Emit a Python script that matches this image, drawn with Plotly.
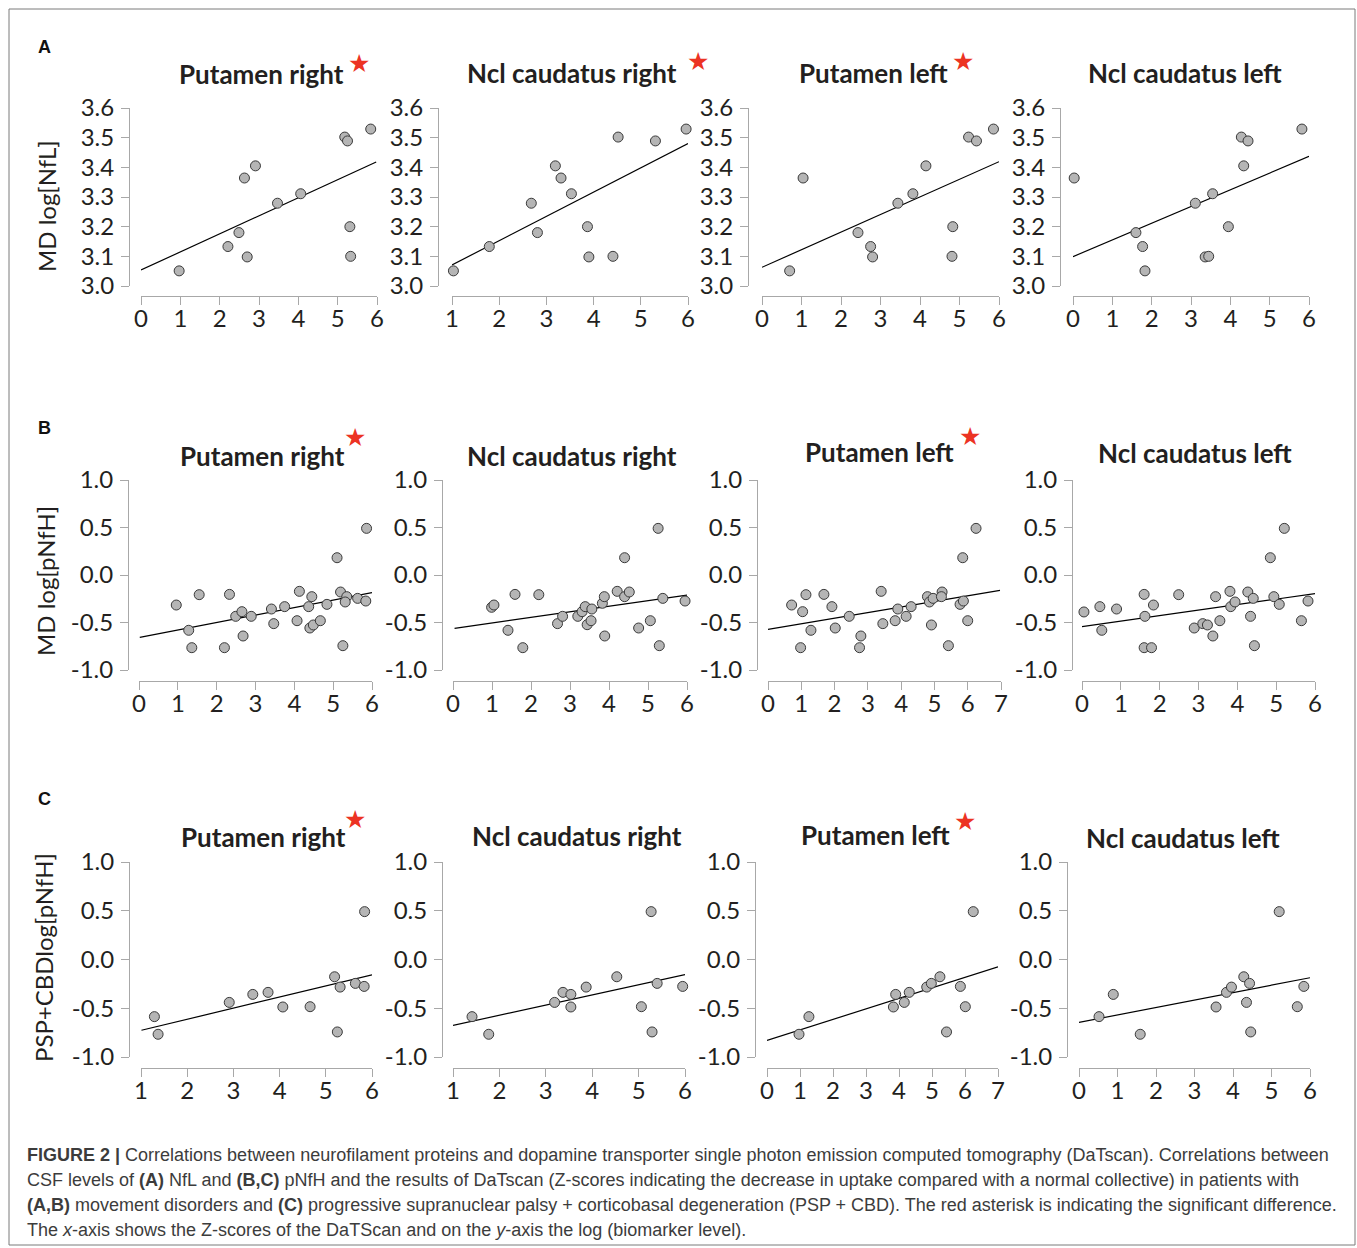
import plotly.graph_objects as go

W, H = 1357, 1248

# ---------------- data ----------------
titles = ["Putamen right", "Ncl caudatus right", "Putamen left", "Ncl caudatus left"]
row_labels = ["A", "B", "C"]
y_titles = ["MD log[NfL]", "MD log[pNfH]", "PSP+CBDlog[pNfH]"]
significant = [[True, True, True, False],
               [True, False, True, False],
               [True, False, True, False]]

nfl_ticks = [3.0, 3.1, 3.2, 3.3, 3.4, 3.5, 3.6]
nfl_ticktext = ["3.0", "3.1", "3.2", "3.3", "3.4", "3.5", "3.6"]
pnfh_ticks = [-1.0, -0.5, 0.0, 0.5, 1.0]
pnfh_ticktext = ["-1.0", "-0.5", "0.0", "0.5", "1.0"]

x_ranges = [[0, 6], [1, 6], [0, 6], [0, 6],
            [0, 6], [0, 6], [0, 7], [0, 6],
            [1, 6], [1, 6], [0, 7], [0, 6]]

# Row A: NfL, movement disorders
a1_x = [0.97, 2.21, 2.49, 2.70, 2.63, 2.91, 3.47, 4.06, 5.18, 5.25, 5.84, 5.31, 5.33]
a1_y = [3.051, 3.133, 3.180, 3.098, 3.364, 3.405, 3.279, 3.311, 3.502, 3.489, 3.529, 3.200, 3.100]
a1_fit_x = [0.0, 5.98]
a1_fit_y = [3.054, 3.418]

a2_x = [1.03, 1.79, 2.68, 2.81, 3.19, 3.31, 3.53, 3.87, 3.90, 4.41, 4.52, 5.31, 5.96]
a2_y = [3.051, 3.133, 3.279, 3.180, 3.405, 3.364, 3.311, 3.200, 3.098, 3.100, 3.502, 3.489, 3.529]
a2_fit_x = [1.0, 6.0]
a2_fit_y = [3.071, 3.480]

a3_x = [0.70, 1.04, 2.43, 2.75, 2.80, 3.44, 3.82, 4.15, 4.83, 4.81, 5.23, 5.43, 5.86]
a3_y = [3.051, 3.364, 3.180, 3.133, 3.098, 3.279, 3.311, 3.405, 3.200, 3.100, 3.502, 3.489, 3.529]
a3_fit_x = [0.0, 6.0]
a3_fit_y = [3.063, 3.419]

a4_x = [0.03, 1.60, 1.77, 1.83, 3.11, 3.36, 3.45, 3.55, 3.95, 4.28, 4.34, 4.45, 5.82]
a4_y = [3.364, 3.180, 3.133, 3.051, 3.279, 3.098, 3.100, 3.311, 3.200, 3.502, 3.405, 3.489, 3.529]
a4_fit_x = [0.0, 6.0]
a4_fit_y = [3.099, 3.437]

# Row B: pNfH, movement disorders
b1_x = [0.96, 1.28, 1.36, 1.55, 2.20, 2.33, 2.49, 2.65, 2.68, 2.89, 3.41, 3.47, 3.75, 4.07, 4.13,
        4.37, 4.45, 4.40, 4.49, 4.67, 4.84, 5.10, 5.19, 5.25, 5.35, 5.31, 5.63, 5.84, 5.86]
b1_y = [-0.316, -0.582, -0.765, -0.207, -0.765, -0.204, -0.435, -0.386, -0.642, -0.435, -0.358,
        -0.512, -0.333, -0.481, -0.172, -0.333, -0.228, -0.558, -0.526, -0.481, -0.309, 0.182,
        -0.179, -0.744, -0.228, -0.284, -0.246, -0.274, 0.491]
b1_fit_x = [0.02, 6.0]
b1_fit_y = [-0.656, -0.186]

b2_x = [0.99, 1.05, 1.41, 1.59, 1.79, 2.20, 2.68, 2.81, 3.20, 3.31, 3.39, 3.44, 3.54, 3.56, 3.83,
        3.88, 3.89, 4.21, 4.40, 4.40, 4.52, 4.76, 5.06, 5.26, 5.29, 5.38, 5.95]
b2_y = [-0.340, -0.316, -0.582, -0.204, -0.765, -0.207, -0.512, -0.435, -0.435, -0.386, -0.333,
        -0.523, -0.481, -0.358, -0.298, -0.228, -0.642, -0.172, 0.182, -0.228, -0.179, -0.558,
        -0.481, 0.491, -0.744, -0.246, -0.274]
b2_fit_x = [0.04, 6.0]
b2_fit_y = [-0.561, -0.211]

b3_x = [0.71, 0.98, 1.04, 1.14, 1.29, 1.68, 1.92, 2.02, 2.44, 2.75, 2.79, 3.40, 3.45, 3.82, 3.90,
        4.15, 4.30, 4.79, 4.85, 4.96, 4.91, 5.23, 5.21, 5.42, 5.77, 5.85, 5.87, 6.00, 6.25]
b3_y = [-0.316, -0.765, -0.386, -0.207, -0.582, -0.204, -0.333, -0.558, -0.435, -0.765, -0.642,
        -0.172, -0.512, -0.481, -0.358, -0.435, -0.333, -0.228, -0.284, -0.246, -0.526, -0.179,
        -0.228, -0.744, -0.309, 0.182, -0.274, -0.481, 0.491]
b3_fit_x = [0.0, 6.97]
b3_fit_y = [-0.572, -0.161]

b4_x = [0.05, 0.46, 0.51, 0.89, 1.60, 1.62, 1.60, 1.79, 1.84, 2.49, 2.89, 3.11, 3.23, 3.37, 3.44,
        3.55, 3.81, 3.83, 3.94, 4.27, 4.34, 4.41, 4.44, 4.85, 4.94, 5.08, 5.21, 5.65, 5.82]
b4_y = [-0.389, -0.333, -0.582, -0.358, -0.204, -0.435, -0.765, -0.765, -0.316, -0.207, -0.558,
        -0.512, -0.526, -0.642, -0.228, -0.481, -0.172, -0.333, -0.284, -0.179, -0.435, -0.246,
        -0.744, 0.182, -0.228, -0.309, 0.491, -0.481, -0.274]
b4_fit_x = [0.0, 6.0]
b4_fit_y = [-0.544, -0.196]

# Row C: pNfH, PSP + CBD
c1_x = [1.29, 1.37, 2.91, 3.42, 3.75, 4.07, 4.66, 5.19, 5.31, 5.25, 5.64, 5.83, 5.84]
c1_y = [-0.586, -0.767, -0.440, -0.358, -0.337, -0.487, -0.484, -0.177, -0.283, -0.743, -0.245, -0.276, 0.491]
c1_fit_x = [1.01, 6.0]
c1_fit_y = [-0.726, -0.157]

c2_x = [1.41, 1.77, 3.19, 3.37, 3.54, 3.54, 3.87, 4.53, 5.06, 5.27, 5.29, 5.40, 5.95]
c2_y = [-0.586, -0.767, -0.440, -0.337, -0.358, -0.487, -0.283, -0.177, -0.484, 0.491, -0.743, -0.245, -0.276]
c2_fit_x = [1.0, 6.0]
c2_fit_y = [-0.676, -0.155]

c3_x = [0.97, 1.27, 3.83, 3.90, 4.16, 4.31, 4.84, 4.98, 5.24, 5.44, 5.86, 6.01, 6.25]
c3_y = [-0.767, -0.586, -0.487, -0.358, -0.440, -0.337, -0.283, -0.245, -0.177, -0.743, -0.276, -0.484, 0.491]
c3_fit_x = [0.0, 7.0]
c3_fit_y = [-0.830, -0.075]

c4_x = [0.52, 0.89, 1.59, 3.56, 3.83, 3.96, 4.28, 4.35, 4.43, 4.46, 5.20, 5.67, 5.84]
c4_y = [-0.586, -0.358, -0.767, -0.487, -0.337, -0.283, -0.177, -0.440, -0.245, -0.743, 0.491, -0.484, -0.276]
c4_fit_x = [0.0, 6.0]
c4_fit_y = [-0.645, -0.187]

points = [(a1_x, a1_y), (a2_x, a2_y), (a3_x, a3_y), (a4_x, a4_y),
          (b1_x, b1_y), (b2_x, b2_y), (b3_x, b3_y), (b4_x, b4_y),
          (c1_x, c1_y), (c2_x, c2_y), (c3_x, c3_y), (c4_x, c4_y)]
fits = [(a1_fit_x, a1_fit_y), (a2_fit_x, a2_fit_y), (a3_fit_x, a3_fit_y), (a4_fit_x, a4_fit_y),
        (b1_fit_x, b1_fit_y), (b2_fit_x, b2_fit_y), (b3_fit_x, b3_fit_y), (b4_fit_x, b4_fit_y),
        (c1_fit_x, c1_fit_y), (c2_fit_x, c2_fit_y), (c3_fit_x, c3_fit_y), (c4_fit_x, c4_fit_y)]

caption_lines = [
    "<b>FIGURE 2 |</b> Correlations between neurofilament proteins and dopamine transporter single photon emission computed tomography (DaTscan). Correlations between",
    "CSF levels of <b>(A)</b> NfL and <b>(B,C)</b> pNfH and the results of DaTscan (Z-scores indicating the decrease in uptake compared with a normal collective) in patients with",
    "<b>(A,B)</b> movement disorders and <b>(C)</b> progressive supranuclear palsy + corticobasal degeneration (PSP + CBD). The red asterisk is indicating the significant difference.",
    "The <i>x</i>-axis shows the Z-scores of the DaTScan and on the <i>y</i>-axis the log (biomarker level).",
]

# ---------------- layout geometry (pixels) ----------------
panel_x = [(141, 377, 129), (452, 688, 438), (762, 999, 748), (1073, 1309, 1060),
           (139, 372, 128), (453, 687, 442), (768, 1001, 757), (1082, 1315, 1072),
           (141, 372, 129), (453, 685, 442), (767, 998, 755), (1079, 1310, 1067)]
row_y = [(108, 286, 296), (480, 670, 681), (862, 1057, 1068)]
title_pos = [[(261, 74), (572, 73), (873, 73), (1185, 73)],
             [(262, 456), (572, 456), (879, 452), (1195, 453)],
             [(263, 837), (577, 836), (875, 835), (1183, 838)]]
star_pos = [[(359, 63), (698, 61), (963, 61), None],
            [(355, 438), None, (970, 436), None],
            [(355, 819), None, (965, 821), None]]
letter_pos = [(44, 47), (44, 428), (44, 799)]
ytitle_pos = [(47, 206), (45, 581), (43, 958)]
caption_y = [1155, 1180, 1205, 1230]


def px(x):
    return x / W


def py(y):
    return 1 - y / H


AXIS_COLOR = "#a8a8a8"
TICK_FONT = dict(family="Lato", size=24, color="#231f20")

fig = go.Figure()
layout = dict(
    template="none",
    width=W, height=H, autosize=False,
    margin=dict(l=0, r=0, t=0, b=0, pad=0, autoexpand=False),
    paper_bgcolor="white", plot_bgcolor="rgba(0,0,0,0)",
    showlegend=False,
)

annotations = []
for i in range(12):
    r, c = divmod(i, 4)
    k = "" if i == 0 else str(i + 1)
    x0, x1, yax = panel_x[i]
    yt, yb, xay = row_y[r]
    xr = x_ranges[i]
    if r == 0:
        yticks, ytext, yrange = nfl_ticks, nfl_ticktext, [3.0, 3.6]
    else:
        yticks, ytext, yrange = pnfh_ticks, pnfh_ticktext, [-1.0, 1.0]
    xt = list(range(xr[0], xr[1] + 1))
    layout["xaxis" + k] = dict(
        domain=[px(x0), px(x1)], range=xr, anchor="free", position=py(xay),
        automargin=False,
        showline=True, linecolor=AXIS_COLOR, linewidth=1,
        ticks="outside", ticklen=8, tickcolor=AXIS_COLOR, tickwidth=1,
        ticklabelstandoff=-7,
        tickvals=xt, ticktext=[str(v) for v in xt], tickfont=TICK_FONT,
        showgrid=False, zeroline=False,
    )
    layout["yaxis" + k] = dict(
        domain=[py(yb), py(yt)], range=yrange, anchor="free", position=px(yax),
        automargin=False,
        showline=True, linecolor=AXIS_COLOR, linewidth=1,
        ticks="outside", ticklen=8, tickcolor=AXIS_COLOR, tickwidth=1,
        ticklabelstandoff=2,
        tickvals=yticks, ticktext=ytext, tickfont=TICK_FONT,
        showgrid=False, zeroline=False,
    )
    fx, fy = fits[i]
    fig.add_trace(go.Scatter(
        x=fx, y=fy, mode="lines", line=dict(color="black", width=1.2),
        xaxis="x" + k, yaxis="y" + k, hoverinfo="skip", cliponaxis=False,
    ))
    sx, sy = points[i]
    fig.add_trace(go.Scatter(
        x=sx, y=sy, mode="markers",
        marker=dict(symbol="circle", size=10, color="#b5b5b5",
                    line=dict(color="#3a3a3a", width=1)),
        xaxis="x" + k, yaxis="y" + k, cliponaxis=False,
    ))
    tx, ty = title_pos[r][c]
    annotations.append(dict(
        x=px(tx), y=py(ty), xref="paper", yref="paper", showarrow=False,
        text="<b>" + titles[c] + "</b>", xanchor="center", yanchor="middle",
        font=dict(family="Lato", size=26, color="#231f20"),
    ))
    sp = star_pos[r][c]
    if sp is not None and significant[r][c]:
        annotations.append(dict(
            x=px(sp[0]), y=py(sp[1]), xref="paper", yref="paper", showarrow=False,
            text="★", xanchor="center", yanchor="middle",
            font=dict(family="DejaVu Sans", size=25, color="#ec3323"),
        ))

for r in range(3):
    lx, ly = letter_pos[r]
    annotations.append(dict(
        x=px(lx), y=py(ly), xref="paper", yref="paper", showarrow=False,
        text="<b>" + row_labels[r] + "</b>", xanchor="center", yanchor="middle",
        font=dict(family="Liberation Sans", size=18, color="#111"),
    ))
    tx, ty = ytitle_pos[r]
    annotations.append(dict(
        x=px(tx), y=py(ty), xref="paper", yref="paper", showarrow=False,
        text=y_titles[r], textangle=-90, xanchor="center", yanchor="middle",
        font=dict(family="Lato", size=24, color="#231f20"),
    ))

for line, yy in zip(caption_lines, caption_y):
    annotations.append(dict(
        x=px(25), y=py(yy), xref="paper", yref="paper", showarrow=False,
        text=line, xanchor="left", yanchor="middle", align="left",
        font=dict(family="Liberation Sans", size=18, color="#3c3c3c"),
    ))

layout["annotations"] = annotations
layout["shapes"] = [dict(
    type="rect", xref="paper", yref="paper",
    x0=px(9), x1=px(1355), y0=py(1245), y1=py(9),
    line=dict(color="#7a7a7a", width=1), fillcolor="rgba(0,0,0,0)",
)]

fig.update_layout(**layout)
fig.write_html(
    "out.html",
    config={"displayModeBar": False},
    post_script="document.body.style.margin='0';document.body.style.overflow='hidden';",
)
